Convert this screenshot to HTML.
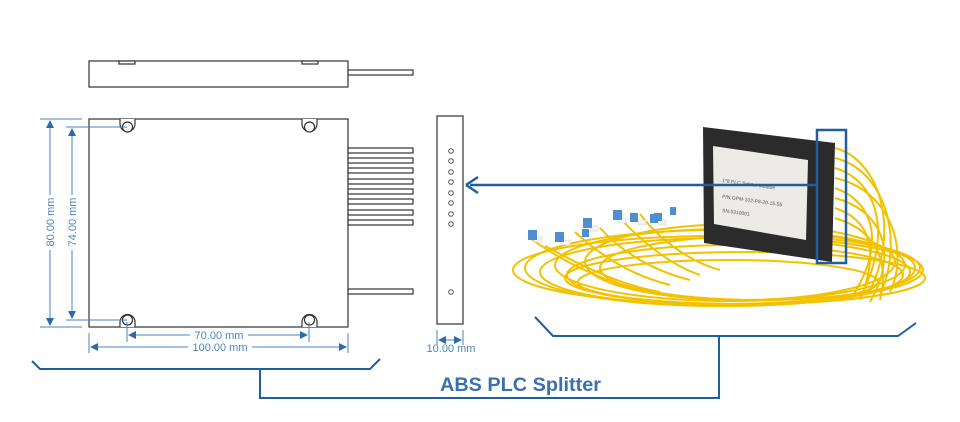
<!DOCTYPE html>
<html><head><meta charset="utf-8"><style>
html,body{margin:0;padding:0;background:#fff;}
svg{display:block;}
text{font-family:"Liberation Sans",sans-serif;}
</style></head><body>
<svg width="960" height="422" viewBox="0 0 960 422" xmlns="http://www.w3.org/2000/svg">
<defs>
<marker id="ar" markerWidth="8" markerHeight="8" refX="7" refY="4" orient="auto-start-reverse" markerUnits="userSpaceOnUse"><path d="M0,0 L8,4 L0,8 z" fill="#2e6aa8"/></marker>
</defs>
<g fill="#fff" stroke="#333" stroke-width="1.2">
<rect x="89" y="61" width="259" height="26"/>
<rect x="119" y="61" width="16" height="3"/>
<rect x="302" y="61" width="16" height="3"/>
<rect x="348" y="70" width="65" height="5"/>
<rect x="89" y="119" width="259" height="208"/>
<rect x="348" y="148" width="65" height="5"/>
<rect x="348" y="158" width="65" height="5"/>
<rect x="348" y="168" width="65" height="5"/>
<rect x="348" y="179" width="65" height="5"/>
<rect x="348" y="189" width="65" height="5"/>
<rect x="348" y="199" width="65" height="5"/>
<rect x="348" y="210" width="65" height="5"/>
<rect x="348" y="220" width="65" height="5"/>
<rect x="348" y="289" width="65" height="5"/>
<path d="M120,119 v5 a7.5,7.5 0 0 0 15,0 v-5"/>
<path d="M302,119 v5 a7.5,7.5 0 0 0 15,0 v-5"/>
<path d="M120,327 v-5 a7.5,7.5 0 0 1 15,0 v5"/>
<path d="M302,327 v-5 a7.5,7.5 0 0 1 15,0 v5"/>
<circle cx="127.5" cy="127" r="5"/><circle cx="309.5" cy="127" r="5"/>
<circle cx="127.5" cy="320" r="5"/><circle cx="309.5" cy="320" r="5"/>
<rect x="437" y="116" width="26" height="208"/>
</g>
<g fill="none" stroke="#555" stroke-width="1">
<circle cx="451" cy="151" r="2.3"/><circle cx="451" cy="161" r="2.3"/><circle cx="451" cy="172" r="2.3"/><circle cx="451" cy="182" r="2.3"/>
<circle cx="451" cy="193" r="2.3"/><circle cx="451" cy="203" r="2.3"/><circle cx="451" cy="214" r="2.3"/><circle cx="451" cy="224" r="2.3"/>
<circle cx="451" cy="292" r="2.3"/>
</g>
<g stroke="#4a86c0" stroke-width="1" fill="none">
<line x1="40" y1="119" x2="82" y2="119"/><line x1="40" y1="327" x2="82" y2="327"/>
<line x1="66" y1="127" x2="127" y2="127"/><line x1="66" y1="320" x2="127" y2="320"/>
<line x1="50" y1="121" x2="50" y2="195" marker-start="url(#ar)"/><line x1="50" y1="250" x2="50" y2="325" marker-end="url(#ar)"/>
<line x1="72" y1="129" x2="72" y2="195" marker-start="url(#ar)"/><line x1="72" y1="250" x2="72" y2="318" marker-end="url(#ar)"/>
<line x1="127" y1="322" x2="127" y2="342"/><line x1="309" y1="322" x2="309" y2="342"/>
<line x1="89" y1="333" x2="89" y2="353"/><line x1="348" y1="333" x2="348" y2="353"/>
<line x1="129" y1="335" x2="190" y2="335" marker-start="url(#ar)"/><line x1="248" y1="335" x2="307" y2="335" marker-end="url(#ar)"/>
<line x1="91" y1="347" x2="188" y2="347" marker-start="url(#ar)"/><line x1="252" y1="347" x2="346" y2="347" marker-end="url(#ar)"/>
<line x1="437" y1="330" x2="437" y2="345"/><line x1="463" y1="330" x2="463" y2="345"/>
<line x1="439" y1="340" x2="461" y2="340" marker-start="url(#ar)" marker-end="url(#ar)"/>
</g>
<g fill="#4a86c0" font-size="11">
<text x="219" y="339" text-anchor="middle">70.00 mm</text>
<text x="220" y="351" text-anchor="middle">100.00 mm</text>
<text x="451" y="352" text-anchor="middle">10.00 mm</text>
<text transform="translate(54,222) rotate(-90)" text-anchor="middle">80.00 mm</text>
<text transform="translate(76,222) rotate(-90)" text-anchor="middle">74.00 mm</text>
</g>
<g fill="none" stroke="#f2c200" stroke-width="2">
<ellipse cx="720" cy="268" rx="195" ry="38"/>
<ellipse cx="725" cy="272" rx="185" ry="34"/>
<ellipse cx="730" cy="265" rx="175" ry="36"/>
<ellipse cx="735" cy="275" rx="168" ry="30"/>
<ellipse cx="740" cy="262" rx="155" ry="38"/>
<ellipse cx="718" cy="270" rx="205" ry="34"/>
<ellipse cx="745" cy="278" rx="180" ry="26"/>
<ellipse cx="728" cy="282" rx="150" ry="22"/>
<ellipse cx="760" cy="268" rx="160" ry="32"/>
<path d="M835,148 C880,160 900,230 870,290"/><path d="M835,158 C885,170 905,240 880,295"/>
<path d="M835,168 C875,180 895,230 860,298"/><path d="M835,178 C890,190 910,250 890,292"/>
<path d="M835,188 C870,200 890,240 850,300"/><path d="M835,198 C880,210 900,250 870,302"/>
<path d="M835,208 C870,220 880,250 860,300"/><path d="M835,218 C875,230 890,260 880,300"/>
</g>
<g fill="none" stroke="#f2c200" stroke-width="2">
<path d="M530,238 C560,260 600,280 640,290"/><path d="M545,246 C580,265 620,285 660,292"/>
<path d="M575,232 C600,255 630,275 670,285"/><path d="M600,228 C620,250 650,270 690,280"/>
<path d="M620,218 C640,240 670,265 700,275"/><path d="M640,214 C660,240 690,262 720,270"/>
</g>
<g fill="#f4f4f4" stroke="#ccc" stroke-width="0.5">
<rect x="534" y="237" width="8" height="5"/><rect x="562" y="240" width="8" height="5"/>
<rect x="590" y="226" width="8" height="5"/><rect x="618" y="218" width="8" height="5"/>
<rect x="638" y="220" width="8" height="5"/><rect x="658" y="220" width="8" height="5"/>
</g>
<g fill="#4d8fd0">
<rect x="528" y="230" width="9" height="10"/><rect x="555" y="232" width="9" height="10"/>
<rect x="583" y="218" width="9" height="10"/><rect x="613" y="210" width="9" height="10"/>
<rect x="630" y="213" width="8" height="9"/><rect x="650" y="214" width="8" height="9"/>
<rect x="654" y="213" width="8" height="8"/><rect x="670" y="207" width="6" height="8"/>
<rect x="582" y="229" width="7" height="8"/>
</g>
<polygon points="703,127 835,143 832,262 704,243" fill="#2b2b2b"/>
<polygon points="713,146 808,160 806,240 714,224" fill="#ecebe7"/>
<g fill="#555" font-size="5">
<text x="722" y="182" transform="rotate(8 722 182)">1*8 PLC Splitter Module</text>
<text x="722" y="198" transform="rotate(8 722 198)">P/N:GPM-102-P8-20-15-55</text>
<text x="722" y="212" transform="rotate(8 722 212)">SN:5310001</text>
</g>
<rect x="817" y="130" width="29" height="133" fill="none" stroke="#1f5f9f" stroke-width="2.5"/>
<line x1="817" y1="185" x2="470" y2="185" stroke="#1f5f9f" stroke-width="2.5"/>
<path d="M466,185 L478,177 M466,185 L478,193" stroke="#1f5f9f" stroke-width="2.5" fill="none"/>
<g fill="none" stroke="#1f5f9f" stroke-width="2">
<polyline points="32,361 40,369 370,369 380,359"/>
<polyline points="260,369 260,398 719,398 719,337"/>
<polyline points="535,317 553,336 898,336 916,323"/>
</g>
<text x="440" y="391" fill="#3a6fb0" font-size="19" font-weight="bold" font-family="'DejaVu Sans',sans-serif" textLength="161" lengthAdjust="spacingAndGlyphs">ABS PLC Splitter</text>
</svg>
</body></html>
